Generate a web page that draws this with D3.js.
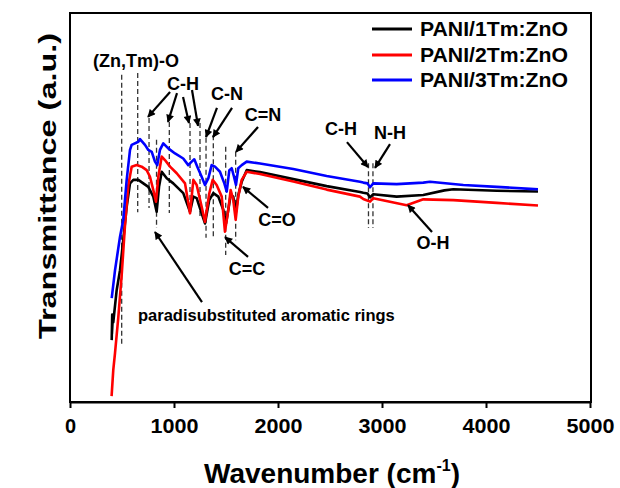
<!DOCTYPE html>
<html>
<head>
<meta charset="utf-8">
<script src="https://cdn.jsdelivr.net/npm/d3@7"></script>
<style>
  html, body { margin: 0; padding: 0; background: #ffffff; }
  svg { display: block; }
  text { font-family: "Liberation Sans", Arial, sans-serif; font-weight: bold; fill: #000; }
</style>
</head>
<body>
<svg id="chart" width="620" height="488"></svg>
<script>
// ---------------- data ----------------
const seriesNames = ["PANI/1Tm:ZnO", "PANI/2Tm:ZnO", "PANI/3Tm:ZnO"];
const seriesColors = ["#000000", "#ff0000", "#0000ff"];

// wavenumber (cm-1), transmittance (a.u.)
const black1Tm = [
  [401,15.9],[406,22.5],[403,17.5],[412,22.0],[416,20.5],[449,28.8],[481,33.9],[512,41.6],[545,50.2],[577,56.2],
  [609,57.1],[657,57.1],[705,56.2],[753,55.3],[801,52.8],[833,48.9],[856,55.3],[882,59.2],
  [930,57.5],[993,56.2],[1089,53.7],[1154,48.9],[1186,52.8],[1218,52.4],[1266,48.5],[1298,45.9],
  [1339,51.9],[1378,53.7],[1426,52.8],[1474,49.4],[1500,45.9],[1522,49.4],[1545,53.2],[1570,52.8],
  [1593,48.5],[1618,53.2],[1651,56.6],[1699,59.6],[1827,59.1],[2147,57.3],[2468,55.5],[2788,54.0],
  [2820,53.8],[2860,53.6],[2885,52.6],[2916,53.4],[3141,52.8],[3397,53.2],[3600,54.4],[3686,54.7],
  [4103,54.3],[4500,54.1]
];
const red2Tm = [
  [400,1.5],[416,8.2],[433,12.6],[464,21.6],[497,32.6],[529,45.5],[561,55.8],[593,60.5],[641,60.9],
  [689,60.5],[737,59.6],[769,57.9],[801,54.5],[827,51.5],[849,57.9],[882,63.1],[913,62.2],[962,60.5],
  [1026,58.8],[1106,56.2],[1154,48.5],[1186,57.1],[1218,55.8],[1266,50.2],[1298,46.3],[1339,53.6],
  [1372,57.1],[1410,55.8],[1459,52.8],[1490,43.8],[1522,49.4],[1545,54.5],[1570,51.9],[1593,46.8],
  [1618,52.8],[1651,57.1],[1699,59.2],[1827,58.6],[2147,56.7],[2468,54.6],[2788,52.8],[2820,52.2],
  [2885,51.5],[2916,52.4],[3237,50.6],[3397,52.1],[3686,51.9],[4103,51.2],[4500,50.5]
];
const blue3Tm = [
  [401,26.7],[433,33.9],[481,42.5],[512,46.8],[545,57.1],[577,64.8],[593,66.1],[657,66.9],[673,67.6],
  [721,66.1],[753,64.8],[786,64.3],[817,61.8],[839,60.9],[865,64.8],[897,66.5],[945,65.2],[1010,63.9],
  [1089,62.6],[1137,60.9],[1170,61.8],[1195,62.4],[1224,60.5],[1266,57.9],[1298,55.8],[1330,57.5],
  [1362,60.9],[1394,60.5],[1442,59.2],[1484,56.2],[1507,54.1],[1532,59.6],[1555,60.1],[1577,57.9],
  [1596,55.8],[1618,60.1],[1651,60.9],[1699,61.8],[1827,61.3],[2147,59.9],[2468,58.1],[2788,56.6],
  [2820,56.4],[2860,56.2],[2885,55.2],[2916,56.2],[3141,56.0],[3397,56.4],[3461,56.6],[3782,55.8],
  [4103,55.3],[4423,54.8],[4500,54.7]
];
const seriesData = [black1Tm, red2Tm, blue3Tm];

const xTicks = [0, 1000, 2000, 3000, 4000, 5000];

// band marker lines: wavenumber, from value, to value
const bandLines = [
  [497,84.1,14.7],[651,84.6,48.8],[760,73.0,49.9],[832,67.4,44.7],[955,72.0,48.6],[1154,71.7,49.4],
  [1250,71.7,47.6],[1308,67.9,42.2],[1378,68.6,42.2],[1497,65.6,37.8],[1593,64.3,41.6],
  [2870,61.4,44.7],[2913,61.4,44.7]
];
// annotation labels: text, wavenumber, value, anchor
const labels = [
  ["(Zn,Tm)-O",635,87.9,"middle"],["C-H",1087,82.0,"middle"],["C-N",1510,79.4,"middle"],
  ["C=N",1856,73.8,"middle"],["C=O",1990,46.8,"middle"],["C=C",1702,34.4,"middle"],
  ["paradisubstituted aromatic rings",654,22.4,"start"],["C-H",2606,70.4,"middle"],
  ["N-H",3077,69.2,"middle"],["O-H",3490,40.9,"middle"]
];
// arrows: from (wn,val) to (wn,val)
const arrows = [
  [962,79.7,750,73.3],[1029,79.4,942,72.0],[1087,78.4,1144,71.7],[1173,80.2,1231,71.0],
  [1413,75.6,1308,68.1],[1558,75.6,1375,68.1],[1808,70.7,1596,64.3],[1904,49.9,1663,55.3],
  [1712,37.3,1490,42.4],[1269,25.7,817,43.7],[2663,66.8,2865,60.4],[3077,66.3,2933,60.2],
  [3481,43.7,3250,50.6]
];

// ---------------- chart ----------------
const svg = d3.select("#chart");
svg.append("rect").attr("width",620).attr("height",488).attr("fill","#fff");

const mLeft = 70, mRight = 590, mTop = 13, mBottom = 402;
const x = d3.scaleLinear().domain([0,5000]).range([mLeft,mRight]);
const y = d3.scaleLinear().domain([0,100]).range([mBottom,mTop]);

// arrow marker
const defs = svg.append("defs");
defs.append("marker").attr("id","ah").attr("viewBox","0 0 10 10")
  .attr("refX",9).attr("refY",5).attr("markerWidth",4.2).attr("markerHeight",3.6)
  .attr("markerUnits","strokeWidth").attr("orient","auto")
  .append("path").attr("d","M0,0 L10,5 L0,10 z").attr("fill","#000");

// band dashed lines
svg.append("g").selectAll("line").data(bandLines).join("line")
  .attr("x1",d=>x(d[0])).attr("x2",d=>x(d[0]))
  .attr("y1",d=>y(d[1])).attr("y2",d=>y(d[2]))
  .attr("stroke","#333").attr("stroke-width",1.3).attr("stroke-dasharray","5,3");

// curves
const line = d3.line().x(d=>x(d[0])).y(d=>y(d[1]));
svg.append("g").selectAll("path").data(seriesData).join("path")
  .attr("d",line).attr("fill","none")
  .attr("stroke",(d,i)=>seriesColors[i]).attr("stroke-width",2.6)
  .attr("stroke-linejoin","round");

// arrows
svg.append("g").selectAll("line").data(arrows).join("line")
  .attr("x1",d=>x(d[0])).attr("y1",d=>y(d[1]))
  .attr("x2",d=>x(d[2])).attr("y2",d=>y(d[3]))
  .attr("stroke","#000").attr("stroke-width",2.2).attr("marker-end","url(#ah)");

// labels
svg.append("g").selectAll("text").data(labels).join("text")
  .attr("x",d=>x(d[1])).attr("y",d=>y(d[2]))
  .attr("dy","0.36em").attr("text-anchor",d=>d[3])
  .attr("font-size",d=>d[0].length>20?16.5:18)
  .text(d=>d[0]);

// frame
svg.append("rect").attr("x",mLeft).attr("y",mTop).attr("width",mRight-mLeft+1).attr("height",mBottom-mTop)
  .attr("fill","none").attr("stroke","#000").attr("stroke-width",2);

// x axis
const xAxis = svg.append("g").attr("transform",`translate(0,${mBottom})`)
  .call(d3.axisBottom(x).tickValues(xTicks).tickFormat(d3.format("d")).tickSize(6).tickSizeOuter(0));
xAxis.select(".domain").attr("stroke","#000").attr("stroke-width",2);
xAxis.selectAll(".tick line").attr("stroke","#000").attr("stroke-width",2);
xAxis.selectAll(".tick text").attr("font-size",20).attr("y",17)
  .attr("font-family","Liberation Sans, Arial, sans-serif").attr("font-weight","bold")
  .attr("textLength",48).attr("lengthAdjust","spacingAndGlyphs")
  .each(function(d){ if(d===0) d3.select(this).attr("textLength",null); });

// axis titles
const xt = svg.append("text").attr("x",(mLeft+mRight)/2+2).attr("y",483)
  .attr("text-anchor","middle").attr("font-size",28);
xt.append("tspan").text("Wavenumber (cm");
xt.append("tspan").attr("font-size",16).attr("dy",-12).text("-1");
xt.append("tspan").attr("dy",12).text(")");

svg.append("text").attr("transform","translate(56,186) rotate(-90)")
  .attr("text-anchor","middle").attr("font-size",24)
  .attr("textLength",306).attr("lengthAdjust","spacingAndGlyphs")
  .text("Transmittance (a.u.)");

// legend
const lg = svg.append("g");
const legendRows = [29, 55, 80];
seriesNames.forEach((name,i)=>{
  lg.append("line").attr("x1",372).attr("x2",412).attr("y1",legendRows[i]).attr("y2",legendRows[i])
    .attr("stroke",seriesColors[i]).attr("stroke-width",3);
  lg.append("text").attr("x",420).attr("y",legendRows[i]+7).attr("font-size",20)
    .attr("textLength",148).attr("lengthAdjust","spacingAndGlyphs").text(name);
});
</script>
</body>
</html>
